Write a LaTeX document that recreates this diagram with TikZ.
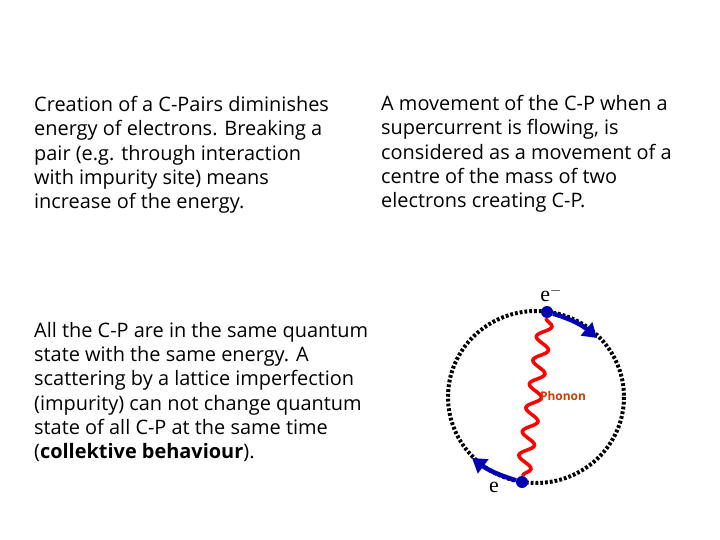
\documentclass[tikz,border=0pt]{standalone}
\usepackage{fontspec}
\setmainfont{Open Sans}
\newfontfamily\serifff{Liberation Serif}
\usetikzlibrary{decorations.pathmorphing,arrows.meta}
\begin{document}
\begin{tikzpicture}[x=1bp,y=-1bp,
  txt/.style={anchor=north west,align=left,inner sep=0pt,font=\fontsize{20}{24.4}\selectfont},
  electron/.style={circle,fill=blue!70!black,inner sep=0pt,minimum size=12bp},
  motion/.style={blue!70!black,line width=4.5bp,-{Triangle[length=14bp,width=17bp]}},
  serif/.style={font=\fontsize{22}{22}\selectfont\serifff}]
\useasboundingbox (0,0) rectangle (720,540);
\node[txt] (t1) at (34,96) {Creation of a C-Pairs diminishes\\energy of electrons. Breaking a\\pair (e.g. through interaction\\with impurity site) means\\increase of the energy.};
\node[txt] (t2) at (381,95) {A movement of the C-P when a\\supercurrent is flowing, is\\considered as a movement of a\\centre of the mass of two\\electrons creating C-P.};
\node[txt] (t3) at (34,322) {All the C-P are in the same quantum\\state with the same energy. A\\scattering  by a lattice imperfection\\(impurity) can not change quantum\\state of all C-P at the same time\\(\textbf{collektive behaviour}).};
\draw[black,line width=4bp,dash pattern=on 2.8bp off 2bp] (536,397) ellipse [x radius=88,y radius=86];
\node[electron] (e1) at (547,312) {};
\node[electron] (e2) at (522,482) {};
\draw[red,line width=3.5bp,decorate,decoration={snake,amplitude=7bp,segment length=24bp}] (e1) -- (e2);
\coordinate (a1) at (597,338);
\coordinate (a2) at (472,458);
\draw[motion] (e1) to[bend left=12] (a1);
\draw[motion] (e2) to[bend left=10] (a2);
\node[serif] (l1) at (551,294) {e$^{-}$};
\node[serif] (l2) at (494,487) {e};
\node[text=orange!60!red!80!black,font=\fontsize{12}{12}\selectfont\bfseries] (ph) at (563,396) {Phonon};
\end{tikzpicture}
\end{document}
